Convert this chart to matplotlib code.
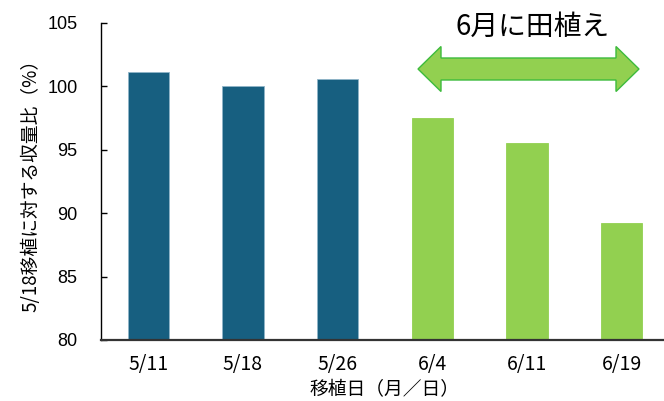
import matplotlib
matplotlib.use("Agg")
import matplotlib.pyplot as plt
from matplotlib.patches import Polygon
import numpy as np

# データ
dates = ["5/11", "5/18", "5/26", "6/4", "6/11", "6/19"]
ratio = [101.1, 100.0, 100.6, 97.5, 95.5, 89.2]
colors = ["#175F80", "#175F80", "#175F80", "#92D050", "#92D050", "#92D050"]

jp = ["Noto Sans CJK JP", "DejaVu Sans"]

W, H = 664, 401
fig = plt.figure(figsize=(W / 100, H / 100), dpi=100)
ax = fig.add_axes([101 / W, 1 - 340 / H, 568 / W, 317.3 / H])

x = np.arange(len(dates))
ax.bar(x, ratio, width=0.44, color=colors, edgecolor=["#8fb4c8"] * 3 + ["#92D050"] * 3,
       linewidth=0.6, bottom=0)
ax.set_xlim(-0.5, 5.5)
ax.set_ylim(80, 105)
ax.set_yticks([80, 85, 90, 95, 100, 105])

for s in ["top", "right"]:
    ax.spines[s].set_visible(False)
ax.spines["left"].set_linewidth(1.0)
ax.spines["bottom"].set_linewidth(1.6)
ax.spines["bottom"].set_color("#333333")

ax.tick_params(axis="y", direction="in", length=4, width=1, pad=17, labelsize=13)
ax.tick_params(axis="x", length=0, pad=10)
for lab in ax.get_yticklabels():
    lab.set_family("Liberation Sans")
ax.set_xticks(x)
ax.set_xticklabels(dates, family=jp, fontsize=14)

ax.set_xlabel("移植日（月／日）", family=jp, fontsize=13.5, labelpad=3)
ax.set_ylabel("5/18移植に対する収量比（%）", family=jp, fontsize=13.5, labelpad=4)

# 矢印（ピクセル座標で形を作る）
x0, x1, yc = 418, 639, 69
hs, hh, hl = 11, 22.5, 23
pts = [(x0, yc), (x0 + hl, yc - hh), (x0 + hl, yc - hs), (x1 - hl, yc - hs),
       (x1 - hl, yc - hh), (x1, yc), (x1 - hl, yc + hh), (x1 - hl, yc + hs),
       (x0 + hl, yc + hs), (x0 + hl, yc + hh)]
pts = [(px / W, 1 - py / H) for px, py in pts]
fig.patches.append(Polygon(pts, closed=True, transform=fig.transFigure,
                           facecolor="#92D050", edgecolor="#3DBB3D", linewidth=1.0))

fig.text(533 / W, 1 - 27 / H, "6月に田植え", family=jp, fontsize=20,
         ha="center", va="center")

fig.savefig("out.png", dpi=100)
